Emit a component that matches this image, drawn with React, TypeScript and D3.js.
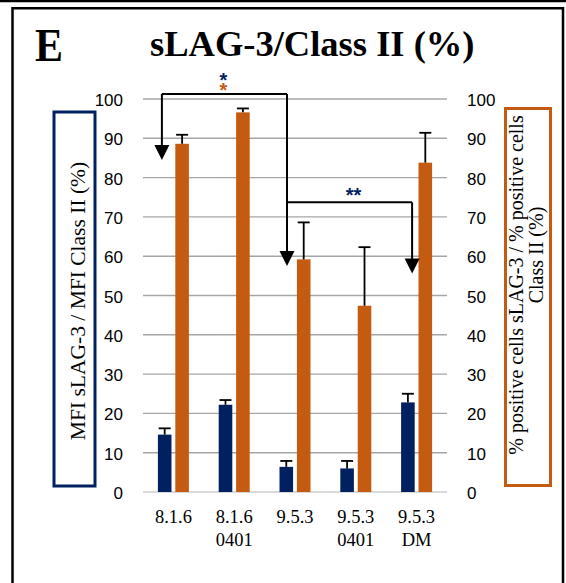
import React from "react";
import * as d3 from "d3";

const categories = [["8.1.6"], ["8.1.6", "0401"], ["9.5.3"], ["9.5.3", "0401"], ["9.5.3", "DM"]];
const mfiValues = [14.6, 22.2, 6.4, 6.0, 22.8];
const mfiErrors = [16.2, 23.4, 7.9, 7.9, 25.0];
const pctValues = [88.6, 96.6, 59.2, 47.4, 83.8];
const pctErrors = [90.9, 97.6, 68.6, 62.3, 91.4];
const yTicks = [0, 10, 20, 30, 40, 50, 60, 70, 80, 90, 100];
const seriesKeys = ["mfi", "pct"];
const seriesColors = ["#002060", "#c55a11"];
const brackets = [
  { from: 0, fromOff: -11.5, to: 2, toOff: -8, top: 101.3, leftTip: 84.5, rightTip: 57.5, leftArrow: true },
  { from: 2, fromOff: -8, to: 4, toOff: -4.5, top: 73.7, leftTip: null, rightTip: 55.6, leftArrow: false },
];

export default function App() {
  const W = 566, H = 583;
  const x = d3.scaleBand<number>().domain(d3.range(categories.length)).range([143, 447]).padding(0);
  const inner = d3.scaleBand<string>().domain(seriesKeys).range([-15.5, 15.5]).paddingInner(0.22).paddingOuter(0);
  const y = d3.scaleLinear().domain([0, 100]).range([492, 99]);
  const cx = (i: number) => (x(i) as number) + x.bandwidth() / 2;
  const series = [
    { key: "mfi", vals: mfiValues, errs: mfiErrors, color: seriesColors[0] },
    { key: "pct", vals: pctValues, errs: pctErrors, color: seriesColors[1] },
  ];
  const bw = inner.bandwidth();
  const arrow = (ax: number, tipY: number) => `M${ax - 7.5},${tipY - 15} L${ax + 7.5},${tipY - 15} L${ax},${tipY} Z`;
  const serif = "'Liberation Serif', 'Times New Roman', serif";
  const sans = "'Liberation Sans', Arial, sans-serif";

  return (
    <svg width={W} height={H} style={{ position: "absolute", left: 0, top: 0, background: "#fff" }}>
      <rect x={0} y={0} width={W} height={H} fill="#fff" />
      {/* frame */}
      <line x1={0} x2={W} y1={1} y2={1} stroke="#000" strokeWidth={2.5} />
      <path d={`M12.5,${H} L12.5,8.3 L563,8.3 L563,${H}`} fill="none" stroke="#000" strokeWidth={2.5} />

      {/* titles */}
      <text x={35} y={61} fontFamily={serif} fontWeight="bold" fontSize={46} textLength={28} lengthAdjust="spacingAndGlyphs">E</text>
      <text x={150} y={56} fontFamily={serif} fontWeight="bold" fontSize={36.5}>sLAG-3/Class II (%)</text>

      {/* gridlines */}
      {yTicks.map((t) => (
        <line key={t} x1={143} x2={447} y1={y(t)} y2={y(t)} stroke={t === 0 ? "#d9d9d9" : "#a6a6a6"} strokeWidth={t === 0 ? 2 : 1.4} />
      ))}
      {/* tick labels */}
      {yTicks.map((t) => (
        <text key={"l" + t} x={123} y={y(t) + 7} textAnchor="end" fontFamily={sans} fontSize={17} fill="#000">{t}</text>
      ))}
      {yTicks.map((t) => (
        <text key={"r" + t} x={467} y={y(t) + 7} textAnchor="start" fontFamily={sans} fontSize={17} fill="#000">{t}</text>
      ))}

      {/* bars */}
      {series.map((s) =>
        s.vals.map((v, i) => {
          const bx = cx(i) + (inner(s.key) as number);
          return <rect key={s.key + i} x={bx} y={y(v)} width={bw} height={y(0) - y(v)} fill={s.color} />;
        })
      )}
      {/* error bars */}
      {series.map((s) =>
        s.vals.map((v, i) => {
          const ex = cx(i) + (inner(s.key) as number) + bw / 2;
          return (
            <g key={"e" + s.key + i} stroke="#000" strokeWidth={1.8}>
              <line x1={ex} x2={ex} y1={y(v)} y2={y(s.errs[i])} />
              <line x1={ex - 6} x2={ex + 6} y1={y(s.errs[i])} y2={y(s.errs[i])} />
            </g>
          );
        })
      )}

      {/* significance brackets */}
      {brackets.map((b, k) => {
        const x1 = cx(b.from) + b.fromOff;
        const x2 = cx(b.to) + b.toOff;
        const yt = y(b.top);
        return (
          <g key={"b" + k}>
            <line x1={x1} x2={x2} y1={yt} y2={yt} stroke="#000" strokeWidth={2} />
            {b.leftArrow && b.leftTip !== null && (
              <>
                <line x1={x1} x2={x1} y1={yt} y2={y(b.leftTip) - 12} stroke="#000" strokeWidth={2} />
                <path d={arrow(x1, y(b.leftTip))} fill="#000" />
              </>
            )}
            <line x1={x2} x2={x2} y1={yt} y2={y(b.rightTip) - 12} stroke="#000" strokeWidth={2} />
            <path d={arrow(x2, y(b.rightTip))} fill="#000" />
          </g>
        );
      })}
      <text textAnchor="middle" fontFamily={sans} fontWeight="bold" fontSize={20}>
        <tspan x={223.5} y={87} fill="#002060">*</tspan>
        <tspan x={223.5} y={97} fill="#c55a11">*</tspan>
      </text>
      <text x={353.5} y={202} textAnchor="middle" fontFamily={sans} fontWeight="bold" fontSize={20} fill="#002060">**</text>

      {/* x labels */}
      {categories.map((lines, i) => (
        <text key={"x" + i} textAnchor="middle" fontFamily={serif} fontSize={18.5} fill="#000">
          {lines.map((ln, j) => (
            <tspan key={j} x={cx(i)} y={523 + j * 22.5}>{ln}</tspan>
          ))}
        </text>
      ))}

      {/* axis title boxes */}
      <rect x={54} y={112} width={41} height={374} fill="none" stroke="#002060" strokeWidth={3} />
      <text transform="translate(84.5,301) rotate(-90)" textAnchor="middle" fontFamily={serif} fontSize={21.5} fill="#000">MFI sLAG-3 / MFI Class II (%)</text>

      <rect x={505.5} y={108.5} width={45} height={377} fill="none" stroke="#c55a11" strokeWidth={3} />
      <text transform="translate(523,285) rotate(-90)" textAnchor="middle" fontFamily={serif} fontSize={20} fill="#000">% positive cells sLAG-3 / % positive cells</text>
      <text transform="translate(543,255) rotate(-90)" textAnchor="middle" fontFamily={serif} fontSize={20} fill="#000">Class II (%)</text>
    </svg>
  );
}
